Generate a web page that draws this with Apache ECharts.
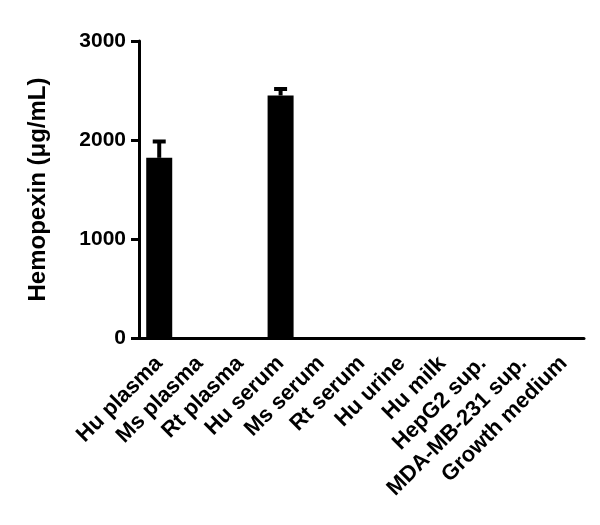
<!DOCTYPE html>
<html>
<head>
<meta charset="utf-8">
<script src="https://cdn.jsdelivr.net/npm/echarts@6/dist/echarts.min.js"></script>
<style>
html,body{margin:0;padding:0;background:#fff;}
#chart{width:600px;height:525px;}
</style>
</head>
<body>
<div id="chart"></div>
<script>
const categories = ['Hu plasma','Ms plasma','Rt plasma','Hu serum','Ms serum','Rt serum','Hu urine','Hu milk','HepG2 sup.','MDA-MB-231 sup.','Growth medium'];
const means = [1820, 0, 0, 2450, 0, 0, 0, 0, 0, 0, 0];
const errUpper = [1985, null, null, 2515, null, null, null, null, null, null, null];
const yTicks = [0, 1000, 2000, 3000];
const yTitle = 'Hemopexin (μg/mL)';

const errData = [];
categories.forEach((c, i) => { if (errUpper[i] != null) errData.push([i, means[i], errUpper[i]]); });

const FONT = '"Liberation Sans", Arial, sans-serif';
const chart = echarts.init(document.getElementById('chart'), null, {renderer: 'canvas'});
chart.setOption({
  animation: false,
  backgroundColor: '#fff',
  grid: {left: 139, right: 16, top: 41, bottom: 187, containLabel: false},
  xAxis: {
    type: 'category',
    data: categories,
    axisLine: {lineStyle: {color: '#000', width: 3}},
    axisTick: {alignWithLabel: true, length: 8, lineStyle: {color: '#000', width: 3}},
    axisLabel: {rotate: 45, interval: 0, margin: 22, color: '#000', fontFamily: FONT, fontWeight: 'bold', fontSize: 22}
  },
  yAxis: {
    type: 'value',
    min: yTicks[0], max: yTicks[yTicks.length - 1], interval: 1000,
    name: yTitle,
    nameLocation: 'middle',
    nameGap: 89,
    nameTextStyle: {color: '#000', fontFamily: FONT, fontWeight: 'bold', fontSize: 24},
    axisLine: {show: true, lineStyle: {color: '#000', width: 3}},
    axisTick: {show: true, length: 8, lineStyle: {color: '#000', width: 3}},
    axisLabel: {margin: 13, color: '#000', fontFamily: FONT, fontWeight: 'bold', fontSize: 21, formatter: v => String(v)},
    splitLine: {show: false}
  },
  series: [
    {
      type: 'bar',
      data: means,
      barWidth: 26,
      itemStyle: {color: '#000'},
      z: 2
    },
    {
      type: 'custom',
      data: errData,
      z: 1,
      renderItem: function (params, api) {
        const x = api.value(0);
        const top = api.coord([x, api.value(2)]);
        const base = api.coord([x, api.value(1)]);
        const half = 6.5;
        return {
          type: 'group',
          children: [
            {type: 'line', shape: {x1: top[0], y1: top[1], x2: base[0], y2: base[1]}, style: {stroke: '#000', lineWidth: 4}},
            {type: 'line', shape: {x1: top[0] - half, y1: top[1], x2: top[0] + half, y2: top[1]}, style: {stroke: '#000', lineWidth: 4}}
          ]
        };
      }
    }
  ]
});
</script>
</body>
</html>
